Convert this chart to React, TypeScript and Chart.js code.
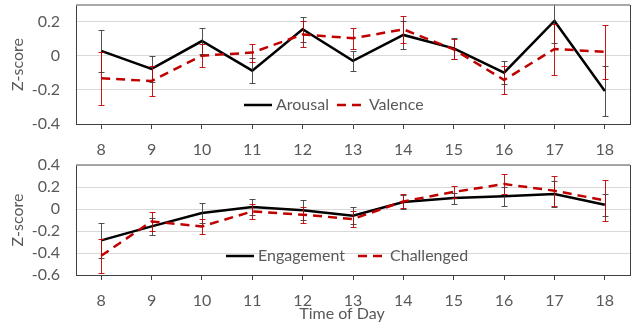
import React, { useEffect, useRef } from 'react';
import { Chart, registerables } from 'chart.js';

Chart.register(...registerables);

const hours = ['8', '9', '10', '11', '12', '13', '14', '15', '16', '17', '18'];

const arousal = [0.03, -0.076, 0.088, -0.086, 0.157, -0.029, 0.124, 0.045, -0.098, 0.206, -0.206];
const arousalErr = [0.123, 0.078, 0.076, 0.074, 0.072, 0.059, 0.08, 0.062, 0.067, 0.13, 0.145];
const valence = [-0.131, -0.147, 0.002, 0.02, 0.127, 0.104, 0.157, 0.039, -0.141, 0.041, 0.025];
const valenceErr = [0.157, 0.086, 0.068, 0.053, 0.077, 0.062, 0.08, 0.059, 0.082, 0.15, 0.16];

const engagement = [-0.285, -0.158, -0.036, 0.018, -0.012, -0.061, 0.064, 0.1, 0.115, 0.136, 0.039];
const engagementErr = [0.157, 0.08, 0.09, 0.076, 0.09, 0.079, 0.06, 0.05, 0.085, 0.115, 0.1];
const challenged = [-0.425, -0.113, -0.158, -0.022, -0.052, -0.091, 0.069, 0.155, 0.227, 0.166, 0.078];
const challengedErr = [0.156, 0.086, 0.068, 0.065, 0.073, 0.075, 0.064, 0.053, 0.092, 0.136, 0.19];

const topTicks = [-0.4, -0.2, 0, 0.2];
const bottomTicks = [-0.6, -0.4, -0.2, 0, 0.2, 0.4];

const FONT = 'Lato, "Open Sans", sans-serif';
const FS = 16;
const TEXT = '#595959';
const BLACK = '#000000';
const RED = '#c00000';

const extrasPlugin = {
  id: 'extras',
  afterDatasetsDraw(chart: any) {
    const ctx = chart.ctx;
    const area = chart.chartArea;
    const yScale = chart.scales.y;
    ctx.save();
    ctx.beginPath();
    ctx.rect(area.left, area.top - 0.5, area.right - area.left, area.bottom - area.top + 1);
    ctx.clip();
    chart.data.datasets.forEach((ds: any, i: number) => {
      const meta = chart.getDatasetMeta(i);
      const errs: number[] = ds.errorBars || [];
      ctx.strokeStyle = ds.errorColor;
      ctx.lineWidth = 1;
      ctx.setLineDash([]);
      meta.data.forEach((pt: any, j: number) => {
        const v = ds.data[j];
        const e = errs[j];
        const x = Math.round(pt.x) + 0.5;
        const yt = Math.round(yScale.getPixelForValue(v + e)) + 0.5;
        const yb = Math.round(yScale.getPixelForValue(v - e)) + 0.5;
        ctx.beginPath();
        ctx.moveTo(x, yt);
        ctx.lineTo(x, yb);
        ctx.moveTo(x - 3, yt);
        ctx.lineTo(x + 3, yt);
        ctx.moveTo(x - 3, yb);
        ctx.lineTo(x + 3, yb);
        ctx.stroke();
      });
    });
    ctx.restore();
  },
  afterDraw(chart: any, _args: any, opts: any) {
    const ctx = chart.ctx;
    const area = chart.chartArea;
    ctx.save();
    ctx.setLineDash([]);
    ctx.strokeStyle = '#8c8c8c';
    ctx.lineWidth = 1.5;
    ctx.beginPath();
    ctx.moveTo(area.left, area.top);
    ctx.lineTo(area.right, area.top);
    ctx.stroke();
    ctx.strokeStyle = '#404040';
    ctx.lineWidth = 1;
    ctx.beginPath();
    ctx.moveTo(Math.round(area.right) + 0.5, area.top);
    ctx.lineTo(Math.round(area.right) + 0.5, area.bottom);
    ctx.stroke();
    // legend
    let x = opts.legendX;
    const y = opts.legendY;
    ctx.font = `${FS}px ${FONT}`;
    ctx.textBaseline = 'middle';
    ctx.textAlign = 'left';
    chart.data.datasets.forEach((ds: any) => {
      ctx.strokeStyle = ds.borderColor;
      ctx.lineWidth = ds.borderWidth;
      ctx.setLineDash(ds.borderDash || []);
      ctx.beginPath();
      ctx.moveTo(x, y);
      ctx.lineTo(x + opts.sampleLen, y);
      ctx.stroke();
      ctx.setLineDash([]);
      x += opts.sampleLen + 4;
      ctx.fillStyle = TEXT;
      ctx.fillText(ds.label, x, y);
      x += ctx.measureText(ds.label).width + opts.legendGap;
    });
    if (opts.xTitle) {
      ctx.font = `${FS}px ${FONT}`;
      ctx.textAlign = 'center';
      ctx.fillStyle = TEXT;
      ctx.fillText(opts.xTitle, opts.xTitleX, opts.xTitleY);
    }
    ctx.restore();
  },
};

function makeConfig(
  names: string[],
  values: number[][],
  errs: number[][],
  ticks: number[],
  min: number,
  max: number,
  xHeight: number,
  padTop: number,
  extras: any
): any {
  return {
    type: 'line',
    data: {
      labels: hours,
      datasets: [
        {
          label: names[0],
          data: values[0],
          errorBars: errs[0],
          errorColor: 'rgba(50,50,50,0.85)',
          borderColor: BLACK,
          backgroundColor: BLACK,
          borderWidth: 2.5,
          pointRadius: 0,
          tension: 0,
          order: 1,
        },
        {
          label: names[1],
          data: values[1],
          errorBars: errs[1],
          errorColor: 'rgba(192,0,0,0.9)',
          borderColor: RED,
          backgroundColor: RED,
          borderWidth: 2.5,
          borderDash: [9, 6],
          pointRadius: 0,
          tension: 0,
          order: 0,
        },
      ],
    },
    plugins: [extrasPlugin],
    options: {
      animation: false,
      responsive: false,
      maintainAspectRatio: false,
      layout: { padding: { top: padTop, right: 10, left: 0, bottom: 0 } },
      plugins: {
        legend: { display: false },
        tooltip: { enabled: false },
        extras,
      },
      scales: {
        x: {
          type: 'category',
          offset: true,
          grid: {
            display: true,
            drawOnChartArea: false,
            drawTicks: true,
            tickLength: 5,
            offset: false,
            color: '#404040',
          },
          border: { display: true, color: '#404040', width: 1 },
          ticks: {
            color: TEXT,
            font: { family: FONT, size: FS },
            padding: 11,
            maxRotation: 0,
            autoSkip: false,
          },
          afterFit(scale: any) {
            scale.height = xHeight;
            scale.paddingLeft = 0;
            scale.paddingRight = 0;
          },
        },
        y: {
          min,
          max,
          afterBuildTicks(scale: any) {
            scale.ticks = ticks.map((v) => ({ value: v }));
          },
          grid: {
            color: '#d9d9d9',
            lineWidth: 1,
            drawTicks: false,
          },
          border: { display: true, color: '#404040', width: 1 },
          ticks: {
            color: TEXT,
            font: { family: FONT, size: FS },
            padding: 16,
            autoSkip: false,
            callback: (v: any) => {
              const n = Number(v);
              if (Math.abs(n) < 1e-9) return '0';
              return n.toFixed(1);
            },
          },
          title: {
            display: true,
            text: 'Z-score',
            color: TEXT,
            font: { family: FONT, size: FS },
            padding: { top: 8, bottom: 0 },
          },
          afterFit(scale: any) {
            scale.width = 76;
            scale.paddingTop = 0;
            scale.paddingBottom = 0;
          },
        },
      },
    },
  };
}

export default function App() {
  const topRef = useRef<HTMLCanvasElement>(null);
  const botRef = useRef<HTMLCanvasElement>(null);

  useEffect(() => {
    const c1 = new Chart(
      topRef.current as HTMLCanvasElement,
      makeConfig(
        ['Arousal', 'Valence'],
        [arousal, valence],
        [arousalErr, valenceErr],
        topTicks,
        -0.4,
        0.3,
        36,
        5,
        { legendX: 244, legendY: 105, sampleLen: 28, legendGap: 8 }
      )
    );
    const c2 = new Chart(
      botRef.current as HTMLCanvasElement,
      makeConfig(
        ['Engagement', 'Challenged'],
        [engagement, challenged],
        [engagementErr, challengedErr],
        bottomTicks,
        -0.6,
        0.4,
        50,
        15,
        {
          legendX: 226,
          legendY: 106,
          sampleLen: 28,
          legendGap: 13,
          xTitle: 'Time of Day',
          xTitleX: 342,
          xTitleY: 164,
        }
      )
    );
    return () => {
      c1.destroy();
      c2.destroy();
    };
  }, []);

  return (
    <div style={{ position: 'fixed', left: 0, top: 0, width: 640, height: 325, background: '#fff' }}>
      <canvas ref={topRef} width={640} height={160} style={{ position: 'absolute', left: 0, top: 0, width: 640, height: 160 }} />
      <canvas ref={botRef} width={640} height={175} style={{ position: 'absolute', left: 0, top: 150, width: 640, height: 175 }} />
    </div>
  );
}
